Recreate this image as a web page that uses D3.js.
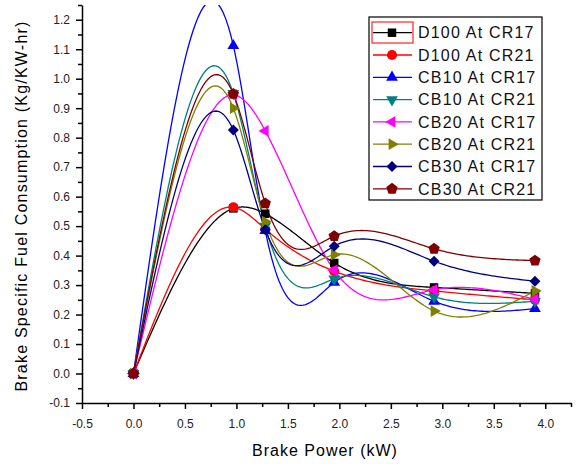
<!DOCTYPE html>
<html lang="en">
<head>
<meta charset="UTF-8" />
<title>BSFC vs Brake Power</title>
<style>
  body { margin: 0; background: #fff; }
  svg { display: block; font-family: "Liberation Sans", Arial, sans-serif; }
  .axis path, .axis line { stroke: #000; stroke-width: 1.5px; }
  .axis text { font-size: 12px; fill: #222; }
  .legend text { font-size: 16px; letter-spacing: 1.2px; fill: #111; }
</style>
</head>
<body>
<svg id="chart" width="580" height="464"></svg>
<script src="https://d3js.org/d3.v7.min.js"></script>
<script>
// brake power (kW)
const power = [0, 0.97, 1.28, 1.95, 2.92, 3.9];

// BSFC values (Kg/KW-hr)
const d100cr17 = [0, 0.56, 0.542, 0.375, 0.292, 0.272];
const d100cr21 = [0, 0.564, 0.49, 0.347, 0.28, 0.25];
const cb10cr17 = [0, 1.112, 0.485, 0.309, 0.245, 0.22];
const cb10cr21 = [0, 0.95, 0.50, 0.321, 0.26, 0.245];
const cb20cr17 = [0, 0.945, 0.823, 0.35, 0.284, 0.252];
const cb20cr21 = [0, 0.90, 0.515, 0.403, 0.212, 0.28];
const cb30cr17 = [0, 0.826, 0.488, 0.432, 0.381, 0.313];
const cb30cr21 = [0, 0.948, 0.577, 0.466, 0.423, 0.383];

const seriesNames = ["D100 At CR17", "D100 At CR21", "CB10 At CR17", "CB10 At CR21",
                     "CB20 At CR17", "CB20 At CR21", "CB30 At CR17", "CB30 At CR21"];

const xTicks = [-0.5, 0.0, 0.5, 1.0, 1.5, 2.0, 2.5, 3.0, 3.5, 4.0];
const yTicks = [-0.1, 0.0, 0.1, 0.2, 0.3, 0.4, 0.5, 0.6, 0.7, 0.8, 0.9, 1.0, 1.1, 1.2];

const colors = ["#000000", "#ff0000", "#0000ff", "#008080", "#ff00ff", "#808000", "#000080", "#800000"];

// pentagon symbol (d3 has none)
const symbolPentagon = {
  draw(ctx, size) {
    const r = Math.sqrt(size / 2.378);
    for (let i = 0; i < 5; i++) {
      const a = -Math.PI / 2 + i * 2 * Math.PI / 5;
      const px = r * Math.cos(a), py = r * Math.sin(a);
      if (i === 0) ctx.moveTo(px, py); else ctx.lineTo(px, py);
    }
    ctx.closePath();
  }
};
const markers = [
  { type: d3.symbolSquare, size: 72, rot: 0 },
  { type: d3.symbolCircle, size: 80, rot: 0 },
  { type: d3.symbolTriangle, size: 60, rot: 0 },
  { type: d3.symbolTriangle, size: 60, rot: 180 },
  { type: d3.symbolTriangle, size: 60, rot: -90 },
  { type: d3.symbolTriangle, size: 60, rot: 90 },
  { type: d3.symbolSquare, size: 60, rot: 45 },
  { type: symbolPentagon, size: 85, rot: 0 }
];

const allValues = [d100cr17, d100cr21, cb10cr17, cb10cr21, cb20cr17, cb20cr21, cb30cr17, cb30cr21];
const series = seriesNames.map((name, i) => ({
  name, color: colors[i], marker: markers[i],
  points: power.map((p, j) => [p, allValues[i][j]])
}));

// natural cubic spline y(x)
function spline(xs, ys) {
  const n = xs.length, h = [];
  for (let i = 0; i < n - 1; i++) h[i] = xs[i + 1] - xs[i];
  const a = [], b = [], c = [], r = [];
  for (let i = 1; i < n - 1; i++) {
    a.push(h[i - 1]); b.push(2 * (h[i - 1] + h[i])); c.push(h[i]);
    r.push(6 * ((ys[i + 1] - ys[i]) / h[i] - (ys[i] - ys[i - 1]) / h[i - 1]));
  }
  const m = r.length;
  for (let i = 1; i < m; i++) {
    const w = a[i] / b[i - 1];
    b[i] -= w * c[i - 1]; r[i] -= w * r[i - 1];
  }
  const M = new Array(n).fill(0);
  for (let i = m - 1; i >= 0; i--) {
    M[i + 1] = (r[i] - (i < m - 1 ? c[i] * M[i + 2] : 0)) / b[i];
  }
  const out = [];
  for (let i = 0; i < n - 1; i++) {
    const steps = 40;
    for (let k = 0; k <= steps; k++) {
      if (i > 0 && k === 0) continue;
      const x = xs[i] + h[i] * k / steps;
      const A = xs[i + 1] - x, B = x - xs[i];
      const y = M[i] * A * A * A / (6 * h[i]) + M[i + 1] * B * B * B / (6 * h[i]) +
        (ys[i] / h[i] - M[i] * h[i] / 6) * A + (ys[i + 1] / h[i] - M[i + 1] * h[i] / 6) * B;
      out.push([x, y]);
    }
  }
  return out;
}

const svg = d3.select("#chart");
const plotL = 82, plotR = 571, plotT = 5, plotB = 403;

const xScale = d3.scaleLinear().domain([-0.5, 4.25]).range([plotL, plotR]);
const yScale = d3.scaleLinear().domain([-0.1, 1.25]).range([plotB, plotT]);

svg.append("defs").append("clipPath").attr("id", "plot")
  .append("rect").attr("x", plotL).attr("y", plotT)
  .attr("width", plotR - plotL).attr("height", plotB - plotT);

// minor ticks
svg.append("g").attr("class", "axis")
  .attr("transform", "translate(0," + plotB + ")")
  .call(d3.axisBottom(xScale).tickValues(d3.range(-0.25, 4.3, 0.5)).tickSize(4).tickFormat(""))
  .call(g => g.select(".domain").remove());
svg.append("g").attr("class", "axis")
  .attr("transform", "translate(" + plotL + ",0)")
  .call(d3.axisLeft(yScale).tickValues(d3.range(-0.05, 1.26, 0.1)).tickSize(4).tickFormat(""))
  .call(g => g.select(".domain").remove());

// major axes
svg.append("g").attr("class", "axis")
  .attr("transform", "translate(0," + plotB + ")")
  .call(d3.axisBottom(xScale).tickValues(xTicks).tickSize(6).tickSizeOuter(0)
    .tickPadding(10).tickFormat(d => d.toFixed(1)));
svg.append("g").attr("class", "axis")
  .attr("transform", "translate(" + plotL + ",0)")
  .call(d3.axisLeft(yScale).tickValues(yTicks).tickSize(6).tickSizeOuter(0)
    .tickPadding(6).tickFormat(d => d.toFixed(1)));

// axis titles
svg.append("text")
  .attr("x", 325).attr("y", 456)
  .attr("text-anchor", "middle")
  .style("font-size", "16px").style("letter-spacing", "1px")
  .text("Brake Power (kW)");
svg.append("text")
  .attr("transform", "translate(27,206) rotate(-90)")
  .attr("text-anchor", "middle")
  .style("font-size", "16px").style("letter-spacing", "1.2px")
  .text("Brake Specific Fuel Consumption (Kg/KW-hr)");

const line = d3.line().x(d => xScale(d[0])).y(d => yScale(d[1]));

const curves = svg.append("g").attr("clip-path", "url(#plot)");
series.forEach(s => {
  curves.append("path")
    .attr("d", line(spline(power, s.points.map(p => p[1]))))
    .attr("fill", "none")
    .attr("stroke", s.color)
    .attr("stroke-width", 1.3);
});

const sym = m => d3.symbol().type(m.type).size(m.size);
series.forEach(s => {
  svg.append("g").selectAll("path")
    .data(s.points)
    .enter().append("path")
    .attr("d", sym(s.marker))
    .attr("transform", d => "translate(" + xScale(d[0]) + "," + yScale(d[1]) + ") rotate(" + s.marker.rot + ")")
    .attr("fill", s.color);
});

// legend
const legend = svg.append("g").attr("class", "legend");
legend.append("rect")
  .attr("x", 369).attr("y", 17).attr("width", 173).attr("height", 183)
  .attr("fill", "#fff").attr("stroke", "#000").attr("stroke-width", 1.2);
legend.append("rect")
  .attr("x", 372).attr("y", 22).attr("width", 41).attr("height", 21)
  .attr("fill", "none").attr("stroke", "#ff3333").attr("stroke-width", 1.3);

const rows = legend.selectAll("g.row").data(series).enter().append("g")
  .attr("class", "row")
  .attr("transform", (d, i) => "translate(0," + (32.7 + i * 22.3) + ")");
rows.append("line")
  .attr("x1", 373).attr("x2", 412)
  .attr("stroke", d => d.color).attr("stroke-width", 1.3);
rows.append("path")
  .attr("d", d => sym(d.marker)())
  .attr("transform", d => "translate(392,0) rotate(" + d.marker.rot + ")")
  .attr("fill", d => d.color);
rows.append("text")
  .attr("x", 418).attr("y", 0).attr("dy", "0.36em")
  .text(d => d.name);
</script>
</body>
</html>
